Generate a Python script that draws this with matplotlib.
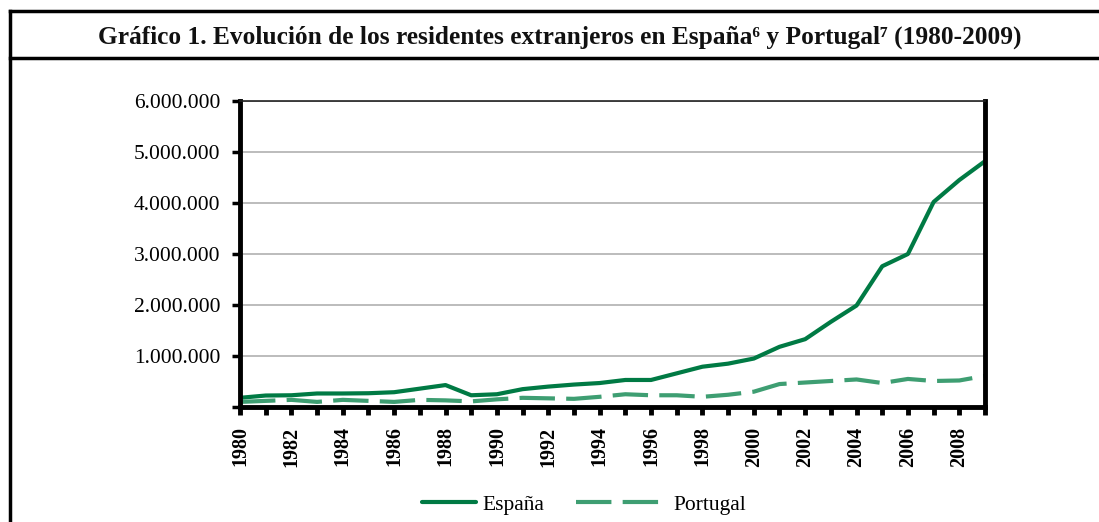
import matplotlib
matplotlib.use("Agg")
import matplotlib.pyplot as plt
from matplotlib.lines import Line2D
from matplotlib.ticker import FuncFormatter, MultipleLocator

# data
years = list(range(1980, 2010))
espana = [180000, 225000, 230000, 265000, 265000, 270000, 290000, 360000, 430000, 230000,
          250000, 350000, 400000, 440000, 470000, 530000, 530000, 660000, 790000, 850000,
          950000, 1180000, 1330000, 1670000, 1990000, 2760000, 3000000, 4020000, 4450000, 4820000]
portugal = [100000, 120000, 140000, 100000, 140000, 120000, 100000, 140000, 130000, 110000,
            150000, 180000, 170000, 160000, 200000, 250000, 230000, 230000, 200000, 240000,
            300000, 450000, 480000, 510000, 540000, 470000, 550000, 510000, 520000, 610000]
year_labels = [str(y) for y in years]

green_dark = "#007A44"
green_light = "#3E9E72"
serif = ["Liberation Serif", "DejaVu Serif"]
plt.rcParams["font.family"] = serif


def miles(v, pos):
    # no label at zero, dots as thousands separator
    if v == 0:
        return ""
    return f"{int(v):,}".replace(",", ".")


fig = plt.figure(figsize=(10.99, 5.22), dpi=100)
ax = fig.add_axes([240 / 1099, 115 / 522, 745 / 1099, 306 / 522])

ax.plot(years, espana, color=green_dark, lw=3.0, solid_capstyle="round", label="España")
ax.plot(years, portugal, color=green_light, lw=3.0, dashes=(8.5, 2.7), label="Portugal")

ax.set_xlim(1980, 2009)
ax.set_ylim(0, 6000000)
ax.yaxis.set_major_locator(MultipleLocator(1000000))
ax.yaxis.set_major_formatter(FuncFormatter(miles))
ax.grid(axis="y", color="#b0b0b0", lw=1.2)
ax.set_axisbelow(True)

ax.set_xticks(years)
ax.set_xticklabels([l if int(l) % 2 == 0 else "" for l in year_labels],
                   rotation=90, fontweight="bold", fontsize=14.5)
ax.tick_params(axis="x", length=6, width=3.5, pad=8, direction="out")
ax.tick_params(axis="y", length=6, width=2.5, labelsize=15.5, pad=8)

for s in ["left", "right", "bottom"]:
    ax.spines[s].set_linewidth(3.5)
    ax.spines[s].set_color("black")
ax.spines["top"].set_linewidth(1.2)
ax.spines["top"].set_color("#222222")

# frame and title band
fig.add_artist(Line2D([10 / 1099, 10 / 1099], [0, 1 - 11 / 522], transform=fig.transFigure, color="black", lw=2.5))
fig.add_artist(Line2D([10 / 1099, 1], [1 - 11 / 522, 1 - 11 / 522], transform=fig.transFigure, color="black", lw=2.5))
fig.add_artist(Line2D([10 / 1099, 1], [1 - 58 / 522, 1 - 58 / 522], transform=fig.transFigure, color="black", lw=2.5))

fig.text(560 / 1099, 1 - 37 / 522,
         "Gráfico 1. Evolución de los residentes extranjeros en España⁶ y Portugal⁷ (1980-2009)",
         ha="center", va="center", fontsize=18.3, fontweight="bold", family=serif, color="#111111")

h1, h2 = ax.get_legend_handles_labels()[0]
leg1 = fig.legend([h1], ["España"], loc="center", bbox_to_anchor=(483 / 1099, 1 - 505 / 522),
                  frameon=False, fontsize=15.5, handlelength=2.5, handletextpad=0.3)
leg2 = fig.legend([h2], ["Portugal"], loc="center", bbox_to_anchor=(661 / 1099, 1 - 505 / 522),
                  frameon=False, fontsize=15.5, handlelength=4.0, handletextpad=0.5)

fig.savefig("out.png", dpi=100)
